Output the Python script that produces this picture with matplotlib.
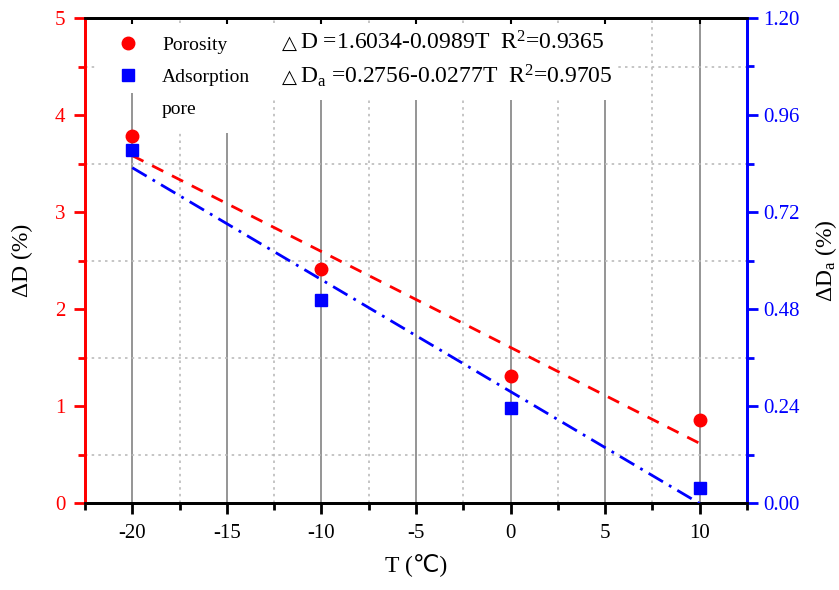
import matplotlib
matplotlib.use("Agg")
import matplotlib.pyplot as plt
from matplotlib.ticker import MultipleLocator, FormatStrFormatter
from matplotlib.patches import Rectangle
import numpy as np

# Data
T = [-20, -10, 0, 10]
porosity = [3.78, 2.41, 1.31, 0.86]
adsorption = [0.873, 0.502, 0.235, 0.037]
fit_D = (1.6034, -0.0989)     # intercept, slope
fit_Da = (0.2756, -0.0277)
eq_sign = "△"
eq_D = "D =1.6034-0.0989T  R$^2$=0.9365"
eq_Da = r"D$_\mathrm{a}$ =0.2756-0.0277T  R$^2$=0.9705"
x_ticks = [-20, -15, -10, -5, 0, 5, 10]
left_ticks = [0, 1, 2, 3, 4, 5]
right_ticks = [0.0, 0.24, 0.48, 0.72, 0.96, 1.20]

plt.rcParams['font.family'] = ['Liberation Serif', 'DejaVu Sans']
plt.rcParams['mathtext.fontset'] = 'custom'
plt.rcParams['mathtext.rm'] = 'Liberation Serif'
plt.rcParams['mathtext.it'] = 'Liberation Serif'
plt.rcParams['axes.unicode_minus'] = False

fig = plt.figure(figsize=(8.39, 5.90), dpi=100)
ax = fig.add_axes([85/839, 87/590, 662/839, 485/590])
ax2 = ax.twinx()

ax.set_xlim(-22.5, 12.5)
ax.set_ylim(0, 5)
ax2.set_ylim(0, 1.2)

ax.set_xticks(x_ticks)
ax.xaxis.set_minor_locator(MultipleLocator(2.5))
ax.set_yticks(left_ticks)
ax.yaxis.set_minor_locator(MultipleLocator(0.5))
ax2.set_yticks(right_ticks)
ax2.yaxis.set_minor_locator(MultipleLocator(0.12))
ax2.yaxis.set_major_formatter(FormatStrFormatter('%.2f'))

# grid
ax.set_axisbelow(True)
ax.grid(which='major', axis='x', color='#8c8c8c', linestyle='-', linewidth=1.3)
ax.grid(which='minor', axis='x', color='#bbbbbb', linestyle=(0, (1.5, 2.5)), linewidth=1.2)
ax.grid(which='minor', axis='y', color='#bbbbbb', linestyle=(0, (1.5, 2.5)), linewidth=1.2)

# white panels behind legend and equations
for (x0, y0, w, h) in [(0.015, 0.8454, 0.0755, 0.142),
                       (0.0906, 0.7629, 0.1918, 0.225),
                       (0.2825, 0.8309, 0.5215, 0.157)]:
    ax.add_patch(Rectangle((x0, y0), w, h, transform=ax.transAxes,
                           facecolor='white', edgecolor='none', zorder=1))

# fit lines
tt = np.array([T[0], T[-1]])
ax.plot(tt, fit_D[0] + fit_D[1]*tt, color='red', linestyle=(0, (4.5, 3.5)), linewidth=2, zorder=3)
ax2.plot(tt, fit_Da[0] + fit_Da[1]*tt, color='blue', linestyle=(0, (6, 2.5, 1, 2.5)), linewidth=2, zorder=3)

# markers
h1, = ax.plot(T, porosity, 'o', color='red', markersize=9, linestyle='none', zorder=4, label='Porosity')
h2, = ax2.plot(T, adsorption, 's', color='blue', markersize=8, linestyle='none', zorder=4, label='Adsorption')

# spines
for a in (ax, ax2):
    for sp in ['left', 'right', 'top', 'bottom']:
        a.spines[sp].set_linewidth(2)
    a.spines['left'].set_color('red')
    a.spines['right'].set_color('blue')

ax.tick_params(axis='y', which='both', colors='red', labelsize=15, width=2, direction='out', pad=6)
ax.tick_params(axis='y', which='major', length=8)
ax.tick_params(axis='y', which='minor', length=5)
ax.tick_params(axis='x', which='both', colors='black', labelsize=15, width=2, direction='out')
ax.tick_params(axis='x', which='major', length=8, pad=7)
ax.tick_params(axis='x', which='minor', length=5)
ax.tick_params(axis='x', which='major', top=True, labeltop=False)
for t in ax.xaxis.get_major_ticks():
    t.tick2line.set_markersize(4)
    t.tick2line.set_marker(3)  # TICKDOWN
    t.tick2line.set_markeredgewidth(1.5)
ax.tick_params(axis='x', which='minor', top=False)
ax2.tick_params(axis='y', which='both', colors='blue', labelsize=15, width=2, direction='out')
ax2.tick_params(axis='y', which='major', length=8)
ax2.tick_params(axis='y', which='minor', length=5)

ax.set_xlabel('T (℃)', fontsize=17, labelpad=8)
ax.set_ylabel('ΔD (%)', fontsize=17, labelpad=16)
ax2.set_ylabel('ΔD$_a$ (%)', fontsize=17, rotation=90, labelpad=10)

leg = ax2.legend(handles=[h1, h2], loc='upper left', bbox_to_anchor=(0.0474, 0.962),
                 frameon=False, fontsize=14, handlelength=1.2, handletextpad=1.15,
                 labelspacing=0.75, borderpad=0, borderaxespad=0)
ax2.text(0.1163, 0.812, 'pore', transform=ax2.transAxes, fontsize=14, ha='left', va='center')

for yb, eq in [(0.936, eq_D), (0.866, eq_Da)]:
    ax2.text(0.2975, yb, eq_sign, transform=ax2.transAxes, fontsize=14, ha='left',
             va='baseline', family='DejaVu Sans')
    ax2.text(0.3248, yb, eq, transform=ax2.transAxes, fontsize=17, ha='left', va='baseline')

fig.savefig('out.png', dpi=100)
